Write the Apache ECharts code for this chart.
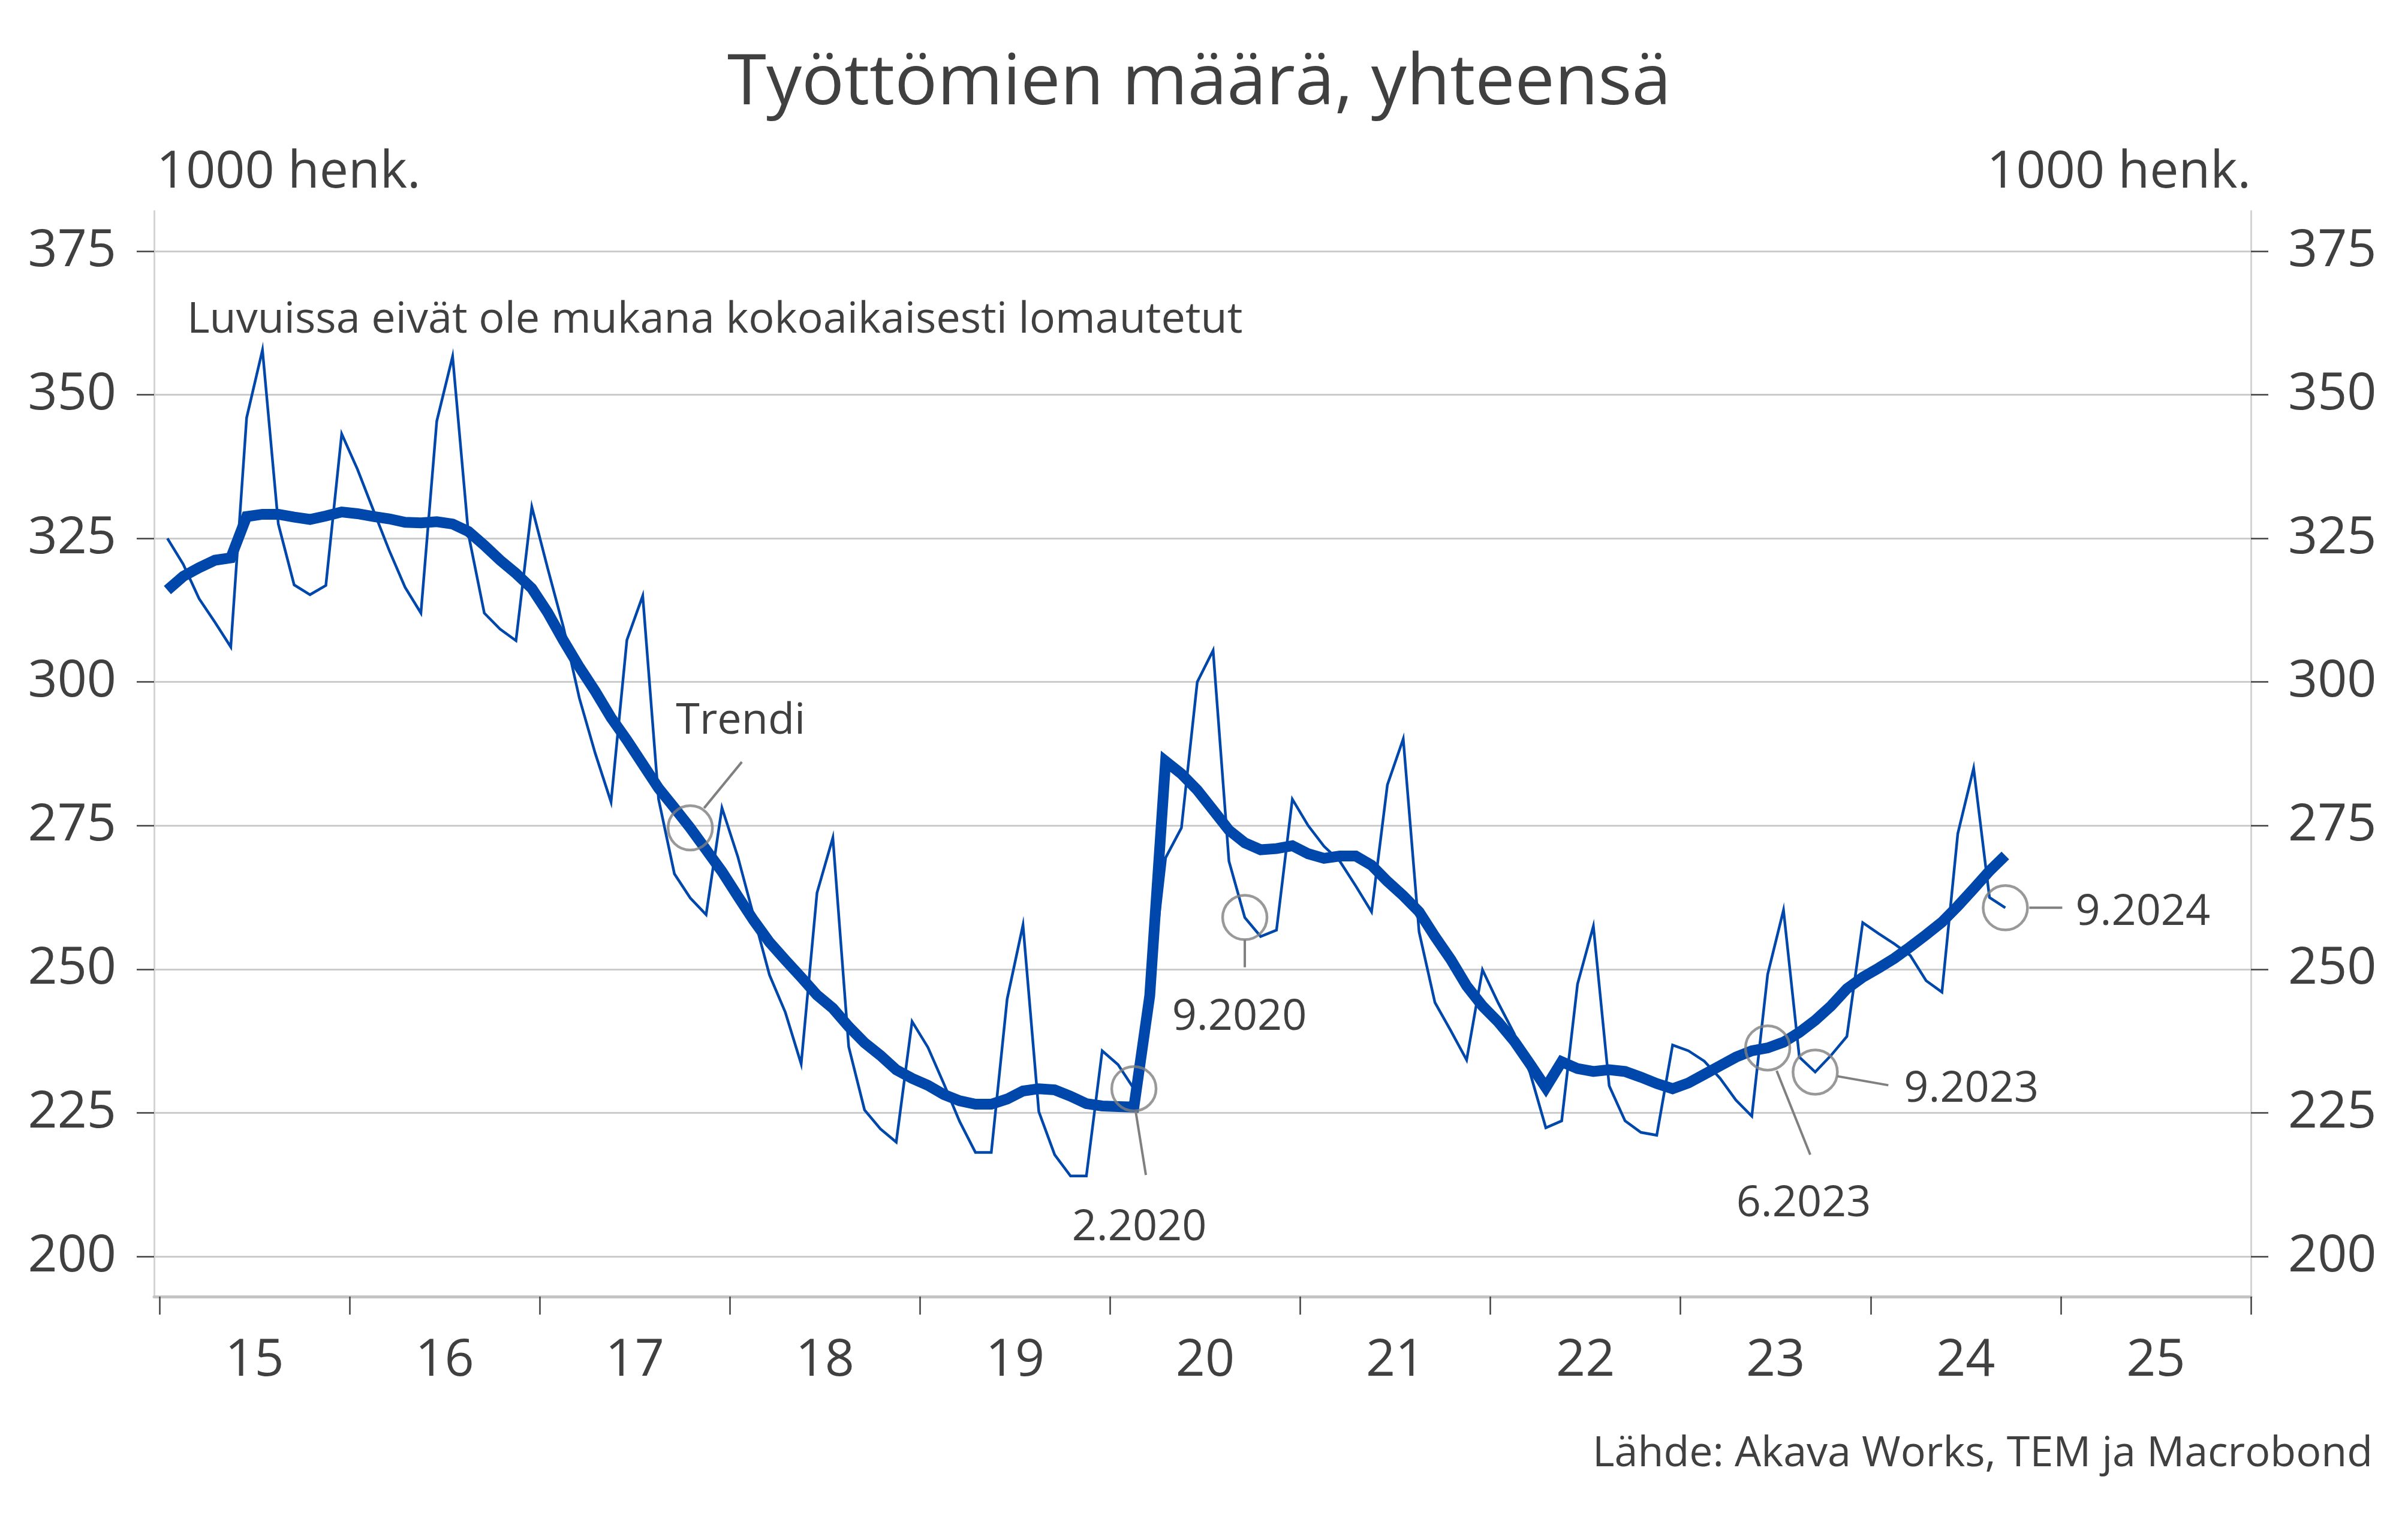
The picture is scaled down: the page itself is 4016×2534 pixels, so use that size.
<!DOCTYPE html>
<html>
<head>
<meta charset="utf-8">
<script src="https://cdn.jsdelivr.net/npm/echarts@6/dist/echarts.min.js"></script>
<style>
html,body{margin:0;padding:0;background:#ffffff;}
#chart{width:4016px;height:2534px;}
</style>
</head>
<body>
<div id="chart"></div>
<script>
// ---------------- DATA ----------------
const startYear = 2015;               // first month = January 2015
const yearLabels = ['15','16','17','18','19','20','21','22','23','24','25'];
const yTickValues = [200, 225, 250, 275, 300, 325, 350, 375];

// Työttömät (1000 henk.), kuukausittain, 1.2015 - 9.2024
const unemployedMonthly = [
  325.0, 320.5, 314.5, 310.4, 306.1, 346.0, 357.8, 327.5, 316.9, 315.2, 316.8, 343.2,
  337.0, 329.9, 322.9, 316.5, 312.0, 345.4, 356.7, 325.7, 312.0, 309.2, 307.2, 330.5,
  319.8, 309.5, 297.2, 287.6, 279.1, 307.3, 315.0, 279.6, 266.6, 262.4, 259.5, 278.1,
  269.6, 259.3, 249.0, 242.5, 233.5, 263.3, 272.9, 236.5, 225.5, 222.2, 219.9, 240.9,
  236.4, 230.1, 223.5, 218.1, 218.1, 244.8, 257.7, 225.2, 217.7, 214.0, 214.0, 235.8,
  233.4, 229.2, 245.0, 269.4, 274.6, 300.0, 305.5, 268.8, 259.0, 255.7, 256.8, 279.6,
  275.0, 271.4, 268.8, 264.5, 260.0, 282.1, 290.1, 256.5, 244.2, 239.3, 234.2, 249.9,
  244.1, 238.8, 232.0, 222.4, 223.6, 247.4, 257.5, 229.7, 223.6, 221.6, 221.1, 236.8,
  235.8, 234.0, 231.0, 227.2, 224.4, 249.1, 260.3, 234.7, 232.1, 235.0, 238.3, 258.1,
  256.2, 254.4, 252.4, 248.0, 246.0, 273.6, 285.0, 262.5, 260.7
];

// Trendi (1000 henk.)
const unemployedTrend = [
  316.0, 318.4, 319.9, 321.2, 321.6, 328.8, 329.2, 329.2, 328.7, 328.3, 328.9, 329.6,
  329.3, 328.8, 328.4, 327.8, 327.7, 327.9, 327.5, 326.2, 323.8, 321.2, 318.9, 316.3,
  312.1, 307.2, 302.6, 298.4, 293.8, 289.9, 285.7, 281.5, 278.1, 274.6, 270.8, 267.0,
  262.7, 258.5, 254.7, 251.6, 248.6, 245.5, 243.2, 240.0, 237.2, 235.0, 232.5, 231.0,
  229.8, 228.2, 227.1, 226.5, 226.5, 227.4, 228.8, 229.2, 229.0, 227.9, 226.6, 226.2,
  226.1, 226.0, 245.4, 286.2, 284.0, 281.2, 277.7, 274.2, 272.0, 270.8, 271.0, 271.5,
  270.1, 269.3, 269.7, 269.7, 268.1, 265.3, 262.8, 260.0, 255.7, 251.7, 247.1, 243.6,
  240.8, 237.5, 233.5, 229.4, 233.9, 232.7, 232.2, 232.5, 232.2, 231.2, 230.1, 229.2,
  230.2, 231.7, 233.2, 234.7, 235.8, 236.3, 237.3, 239.0, 241.1, 243.6, 246.6, 248.6,
  250.2, 251.9, 253.9, 256.0, 258.2, 261.0, 264.0, 267.1, 269.8
];

// Annotated points: label, series it marks, month (m.yyyy)
const annotationLabels = ['Trendi', '2.2020', '9.2020', '6.2023', '9.2023', '9.2024'];
const annotationSeries = ['trend', 'monthly', 'monthly', 'trend', 'monthly', 'monthly'];
const annotationMonths = ['10.2017', '2.2020', '9.2020', '6.2023', '9.2023', '9.2024'];

// ---------------- STYLE / LAYOUT ----------------
const FONT = '"Open Sans", "Noto Sans", sans-serif';
const FW = 400;
const TEXT = '#404040';
const BLUE = '#0047AB';
const GRAY = '#808080';
const GRID_COLOR = '#cccccc';

// pixel offsets of leader lines and texts relative to the circled point
const annotationLayout = {
  'Trendi': {line: [23, -33, 86, -110], text: [84, -178], align: 'center'},
  '2.2020': {line: [3, 38, 20, 144], text: [9, 232], align: 'center'},
  '9.2020': {line: [0, 37, 0, 83], text: [-9, 167], align: 'center'},
  '6.2023': {line: [15, 38, 71, 178], text: [60, 260], align: 'center'},
  '9.2023': {line: [37, 7, 122, 22], text: [148, 29], align: 'left'},
  '9.2024': {line: [40, 0, 95, 0], text: [117, 8], align: 'left'}
};

const totalMonths = yearLabels.length * 12;
const monthX = i => i + 0.5;                      // mid-month position
const monthIndex = s => { const p = s.split('.').map(Number); return (p[1] - startYear) * 12 + (p[0] - 1); };

const monthlyData = unemployedMonthly.map((v, i) => [monthX(i), v]);
const trendData = unemployedTrend.map((v, i) => [monthX(i), v]);

const annPoints = annotationLabels.map((lab, k) => {
  const i = monthIndex(annotationMonths[k]);
  const arr = annotationSeries[k] === 'trend' ? unemployedTrend : unemployedMonthly;
  return {label: lab, value: [monthX(i), arr[i]]};
});

const tickPositions = yearLabels.map((_, k) => k * 12).concat([totalMonths]);
const labelPositions = yearLabels.map((_, k) => k * 12 + 6);

const chart = echarts.init(document.getElementById('chart'), null, {renderer: 'canvas'});

const option = {
  animation: false,
  backgroundColor: '#ffffff',
  grid: [
    {left: 257, right: 262, top: 419, bottom: 438},
    {left: 257, right: 262, top: 352, bottom: 371}
  ],
  xAxis: [
    {
      gridIndex: 0, type: 'value', min: -0.34, max: totalMonths,
      position: 'bottom', offset: 67,
      axisLine: {show: true, onZero: false, lineStyle: {color: '#c4c4c4', width: 5}},
      axisTick: {show: true, customValues: tickPositions, length: 30, lineStyle: {color: TEXT, width: 2.5}},
      axisLabel: {
        show: true, customValues: labelPositions, margin: 64,
        fontFamily: FONT, fontWeight: FW, fontSize: 86, color: TEXT,
        formatter: v => yearLabels[Math.round((v - 6) / 12)]
      },
      splitLine: {show: false}
    },
    {gridIndex: 1, type: 'value', min: 0, max: 1, show: false}
  ],
  yAxis: [
    {
      gridIndex: 0, type: 'value', min: yTickValues[0], max: yTickValues[yTickValues.length - 1], interval: 25,
      position: 'left',
      axisLine: {show: false, onZero: false},
      axisTick: {show: true, length: 29, lineStyle: {color: TEXT, width: 2.5}},
      axisLabel: {margin: 63, fontFamily: FONT, fontWeight: FW, fontSize: 86, color: TEXT, padding: [14, 0, 0, 0]},
      splitLine: {show: true, lineStyle: {color: GRID_COLOR, width: 3}}
    },
    {
      gridIndex: 0, type: 'value', min: yTickValues[0], max: yTickValues[yTickValues.length - 1], interval: 25,
      position: 'right',
      axisLine: {show: false, onZero: false},
      axisTick: {show: true, length: 29, lineStyle: {color: TEXT, width: 2.5}},
      axisLabel: {margin: 62, fontFamily: FONT, fontWeight: FW, fontSize: 86, color: TEXT, padding: [14, 0, 0, 0]},
      splitLine: {show: false}
    },
    {
      gridIndex: 1, type: 'value', min: 0, max: 1, position: 'left',
      axisLine: {show: true, onZero: false, lineStyle: {color: '#d4d4d4', width: 3}},
      axisTick: {show: false}, axisLabel: {show: false}, splitLine: {show: false}
    },
    {
      gridIndex: 1, type: 'value', min: 0, max: 1, position: 'right',
      axisLine: {show: true, onZero: false, lineStyle: {color: '#d4d4d4', width: 3}},
      axisTick: {show: false}, axisLabel: {show: false}, splitLine: {show: false}
    }
  ],
  series: [
    {
      name: 'Työttömät', type: 'line', xAxisIndex: 0, yAxisIndex: 0,
      data: monthlyData, showSymbol: false, symbol: 'none', z: 3,
      lineStyle: {color: BLUE, width: 4.5, join: 'miter'}
    },
    {
      name: 'Trendi', type: 'line', xAxisIndex: 0, yAxisIndex: 0,
      data: trendData, showSymbol: false, symbol: 'none', z: 4,
      lineStyle: {color: BLUE, width: 18, join: 'miter', cap: 'butt'}
    },
    {
      name: 'annotations', type: 'scatter', xAxisIndex: 0, yAxisIndex: 0,
      data: annPoints.map(p => p.value), symbol: 'circle', symbolSize: 74, z: 6,
      itemStyle: {color: 'rgba(0,0,0,0)', borderColor: GRAY, borderWidth: 4.5},
      silent: true
    }
  ]
};
chart.setOption(option);

// ---------- texts & annotation leaders ----------
const graphics = [
  {type: 'text', x: 2000, y: 140, style: {text: 'Työttömien määrä, yhteensä', fontFamily: FONT, fontWeight: FW, fontSize: 118, fill: TEXT, align: 'center', verticalAlign: 'middle'}},
  {type: 'text', x: 261, y: 288, style: {text: '1000 henk.', fontFamily: FONT, fontWeight: FW, fontSize: 86, fill: TEXT, align: 'left', verticalAlign: 'middle'}},
  {type: 'text', x: 3754, y: 288, style: {text: '1000 henk.', fontFamily: FONT, fontWeight: FW, fontSize: 86, fill: TEXT, align: 'right', verticalAlign: 'middle'}},
  {type: 'text', x: 312, y: 534, style: {text: 'Luvuissa eivät ole mukana kokoaikaisesti lomautetut', fontFamily: FONT, fontWeight: FW, fontSize: 72, fill: TEXT, align: 'left', verticalAlign: 'middle'}},
  {type: 'text', x: 3957, y: 2426, style: {text: 'Lähde: Akava Works, TEM ja Macrobond', fontFamily: FONT, fontWeight: FW, fontSize: 70, fill: TEXT, align: 'right', verticalAlign: 'middle'}}
];

annPoints.forEach(p => {
  const c = chart.convertToPixel({xAxisIndex: 0, yAxisIndex: 0}, p.value);
  const L = annotationLayout[p.label];
  graphics.push({
    type: 'line', z: 7,
    shape: {x1: c[0] + L.line[0], y1: c[1] + L.line[1], x2: c[0] + L.line[2], y2: c[1] + L.line[3]},
    style: {stroke: GRAY, lineWidth: 4}
  });
  graphics.push({
    type: 'text', z: 7, x: c[0] + L.text[0], y: c[1] + L.text[1],
    style: {text: p.label, fontFamily: FONT, fontWeight: FW, fontSize: 72, fill: TEXT, align: L.align, verticalAlign: 'middle'}
  });
});

chart.setOption({graphic: graphics});
</script>
</body>
</html>
